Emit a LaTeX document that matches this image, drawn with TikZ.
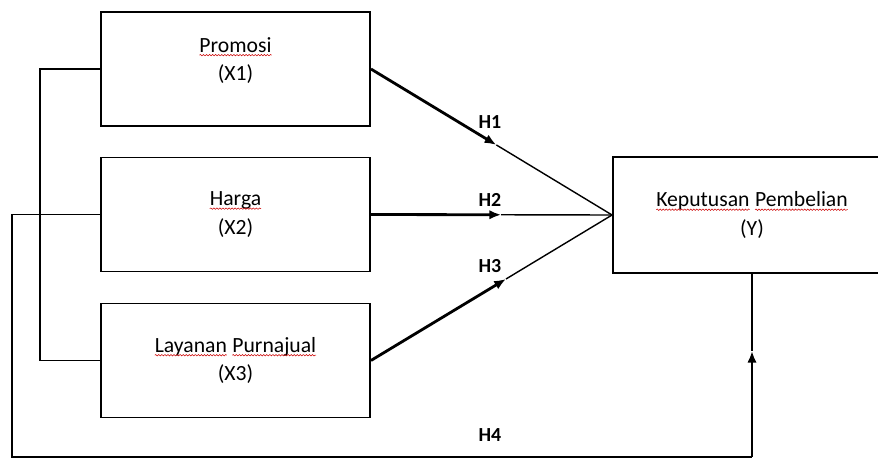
\documentclass[tikz,border=0pt]{standalone}
\usepackage{fontspec}
\setmainfont{Carlito}
\usetikzlibrary{arrows.meta, positioning, calc, decorations.pathmorphing}
\newcommand\spellerr[1]{\tikz[baseline=(w.base)]{%
  \node[inner sep=0pt, outer sep=0pt, draw=none,
        minimum width=0pt, minimum height=0pt] (w) {#1};
  \draw[red!80!black, line width=0.45pt, decorate,
        decoration={snake, amplitude=0.6pt, segment length=2.6pt}]
    ([yshift=-2.6pt]w.base west) -- ([yshift=-2.6pt]w.base east);}}
\tikzset{
  var/.style={rectangle, draw, line width=1.6pt,
              minimum width=8.07cm, minimum height=3.42cm,
              align=center, font=\fontsize{18.5}{24.5}\selectfont},
  hyp/.style={font=\fontsize{17}{20}\selectfont\bfseries},
  arr/.style={-{Latex[length=10pt, width=8pt]}, line width=2.4pt},
  link/.style={line width=1.6pt},
  rest/.style={line width=1.2pt},
}
\begin{document}
\begin{tikzpicture}[x=0.03cm, y=-0.03cm]
  \useasboundingbox (0,0) rectangle (878,459);
  \clip (0,0) rectangle (878,459);

  \node[var, text depth=0.6cm] (x1) at (235.5,69) {\spellerr{Promosi}\\(X1)};
  \node[var] (x2) at (235.5,214.5) {\spellerr{Harga}\\(X2)};
  \node[var] (x3) at (235.5,360.5) {\spellerr{Layanan} \spellerr{Purnajual}\\(X3)};
  \node[var, minimum width=8.34cm, minimum height=3.48cm] (y) at (752,215)
    {\spellerr{Keputusan} \spellerr{Pembelian}\\(Y)};

  % hypotheses X1..X3 -> Y
  \coordinate (h1) at ($(x1.east)!0.52!(y.west)$);
  \coordinate (h2) at ($(x2.east)!0.54!(y.west)$);
  \coordinate (h3) at ($(x3.east)!0.56!(y.west)$);
  \draw[arr] (x1.east) -- (h1);
  \draw[rest] (h1) -- (y.west);
  \draw[arr] (x2.east) -- (h2);
  \draw[rest] (h2) -- (y.west);
  \draw[arr] (x3.east) -- (h3);
  \draw[rest] (h3) -- (y.west);

  \node[hyp] (lh1) at (490,122) {H1};
  \node[hyp] (lh2) at (490,199.5) {H2};
  \node[hyp] (lh3) at (490,266) {H3};
  \node[hyp] (lh4) at (490,435) {H4};

  % simultaneous path
  \draw[link] (x1.west) -- ++(-60,0) |- (x3.west);
  \coordinate (corner) at (12,457);
  \coordinate (h4) at ($(y.south)+(0,77)$);
  \draw[link] (x2.west) -| (corner) -- (corner -| h4);
  \draw[arr] (corner -| h4) -- (h4);
  \draw[rest] (h4) -- (y.south);
\end{tikzpicture}
\end{document}
